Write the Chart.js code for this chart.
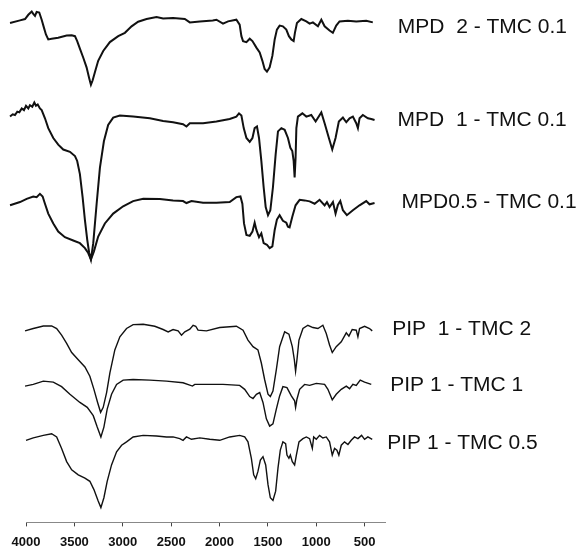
<!DOCTYPE html>
<html>
<head>
<meta charset="utf-8">
<script src="https://cdn.jsdelivr.net/npm/chart.js@4.4.1/dist/chart.umd.min.js"></script>
<style>
  body { margin: 0; background: #fff; }
  #wrap { width: 582px; height: 559px; position: relative; }
</style>
</head>
<body>
<div id="wrap"><canvas id="ftir"></canvas></div>
<script>
/* ---------- DATA : [wavenumber cm-1, transmittance a.u. (offset)] ---------- */
const seriesNames = [
  "MPD  2 - TMC 0.1",
  "MPD  1 - TMC 0.1",
  "MPD0.5 - TMC 0.1",
  "PIP  1 - TMC 2",
  "PIP 1 - TMC 1",
  "PIP 1 - TMC 0.5"
];
const tickValues = [4000, 3500, 3000, 2500, 2000, 1500, 1000, 500];

const mpd2 = [[4165,506.7],[4062,509.3],[4010,510.7],[3976,515],[3941,518.3],[3925,516],[3907,514],[3890,518],[3863,517.3],[3838,510],[3814,501.7],[3794,495],[3770,490],[3735,490.7],[3667,491.7],[3580,494],[3528,494.3],[3494,493.3],[3471,488.3],[3443,480.7],[3409,471.7],[3374,461.7],[3347,450.7],[3329,444],[3312,448.3],[3288,456.7],[3254,468.3],[3202,478.3],[3133,487.3],[3047,493.3],[2978,496.7],[2909,503.3],[2841,508],[2754,510.7],[2651,512.7],[2583,511.3],[2480,511.7],[2359,510.7],[2307,507.3],[2204,508.3],[2070,509.3],[2032,510],[1964,506],[1912,508.3],[1826,510],[1792,505],[1774,493.3],[1757,488.3],[1722,487.3],[1688,490.7],[1660,488.3],[1619,481.7],[1585,476.7],[1557,468.3],[1534,460],[1510,457.3],[1482,461.7],[1454,473.3],[1430,490],[1407,500],[1379,504],[1345,503.3],[1310,500],[1283,493.3],[1258,490],[1234,488.3],[1221,496.7],[1200,506.7],[1155,510.7],[1103,508.3],[1069,506],[1035,507.3],[983,503.3],[948,510],[914,503.3],[863,499],[829,496.7],[794,504],[760,508.3],[674,509],[587,508.3],[484,509],[416,507.3]];

const mpd1 = [[4165,411.7],[4137,414],[4114,413.3],[4090,416.7],[4069,416],[4044,420],[4021,418.3],[4000,422.7],[3976,420],[3959,423.3],[3935,421.7],[3914,426],[3897,422.7],[3879,424],[3856,420],[3838,418.3],[3804,410],[3770,400],[3718,390],[3667,383.3],[3615,378.3],[3546,376],[3494,371.7],[3471,366.7],[3443,353.3],[3415,330],[3391,306.7],[3367,286.7],[3347,273.3],[3329,266.7],[3305,283.3],[3270,323.3],[3236,360],[3195,386.7],[3151,403.3],[3099,410.7],[3030,412.7],[2893,411.7],[2720,410],[2583,407.3],[2480,406],[2377,404],[2342,401.7],[2307,405],[2170,405],[2032,406.7],[1895,409.3],[1826,411.7],[1799,415],[1774,412.7],[1750,400],[1722,390],[1688,386],[1660,390],[1637,400],[1613,401.7],[1592,390],[1568,366.7],[1544,340],[1523,320],[1499,311.7],[1475,316.7],[1448,340],[1420,373.3],[1396,396.7],[1361,400],[1327,398.3],[1293,390],[1268,380],[1248,376.7],[1234,366.7],[1224,350],[1214,370],[1206,400],[1190,411.7],[1144,415],[1103,411.7],[1052,413.3],[1007,406.7],[948,416],[914,405],[870,390],[835,378.3],[801,390],[767,406.7],[725,410.7],[690,406],[656,410],[622,411.7],[587,405],[570,400],[553,410],[519,413.3],[467,410],[432,409.3],[398,408.3]];

const mpd05 = [[4165,321.7],[4062,325],[3993,328.3],[3925,330.7],[3890,330],[3856,333.3],[3828,330.7],[3804,323.3],[3770,313.3],[3718,303.3],[3667,295],[3598,289.3],[3512,286],[3443,283.3],[3391,278.3],[3357,273.3],[3329,266.7],[3298,275],[3254,290],[3185,303.3],[3099,313.3],[2996,320.7],[2893,326],[2789,328.3],[2617,328],[2480,326.7],[2377,326],[2342,324],[2290,326],[2170,324.3],[2032,324.3],[1895,325],[1826,330],[1784,330.7],[1764,323.3],[1747,303.3],[1722,291.7],[1688,290.7],[1660,295],[1637,304],[1619,296.7],[1592,289.3],[1568,293.3],[1544,283.3],[1510,281.7],[1482,278.3],[1454,280],[1430,296.7],[1407,307.3],[1379,311.7],[1345,306],[1310,304],[1293,300],[1276,299.3],[1248,310],[1214,321.7],[1172,327.3],[1121,326.7],[1069,325.7],[1017,323.3],[966,327.3],[914,321.7],[890,325],[863,320],[828,325],[801,313.3],[777,322],[752,326],[725,316.7],[684,311.7],[622,316.7],[553,321.7],[484,326],[450,322.7],[398,324]];

const pip2 = [[4010,194.3],[3925,196.7],[3821,199.3],[3735,199.3],[3683,196.7],[3632,190],[3580,181.7],[3528,172.3],[3460,165],[3391,157.7],[3340,148.3],[3298,135],[3260,121.7],[3229,111.7],[3202,116.7],[3167,131.7],[3133,151.7],[3082,175],[3030,188.3],[2961,196.7],[2893,200.7],[2789,201],[2669,199],[2583,195.7],[2531,193.3],[2480,195.7],[2428,194.3],[2393,190],[2359,193.3],[2307,196],[2273,200],[2246,199],[2222,195],[2135,194.3],[1998,197.7],[1826,199],[1757,195],[1706,185],[1654,178.3],[1603,175],[1568,161.7],[1534,145],[1499,130],[1475,127.7],[1448,133.3],[1413,155],[1379,178.3],[1327,193.3],[1283,191],[1248,178.3],[1227,165],[1214,153.3],[1200,165],[1179,185],[1138,196.7],[1087,200],[1035,197.7],[983,196.7],[932,200],[897,191.7],[863,180],[835,172.3],[794,178.3],[742,183.3],[690,192.3],[663,189],[629,195.7],[587,195],[570,188.3],[553,196.7],[501,199],[450,196.7],[422,194.3]];

const pip1 = [[4010,138.3],[3925,140],[3821,143.3],[3718,142.3],[3632,137.7],[3546,130],[3443,121.7],[3367,116.7],[3305,108.3],[3264,96.7],[3226,86.7],[3195,96.7],[3161,115],[3116,130],[3064,140],[2996,144.3],[2893,145],[2720,144.3],[2548,143.3],[2377,141.7],[2280,138.3],[2256,140],[2135,140],[1964,140],[1792,139],[1740,135],[1688,127.7],[1654,125.7],[1619,130],[1585,131.7],[1551,121.7],[1516,105],[1482,97.7],[1448,100],[1413,115],[1379,128.3],[1345,137.7],[1303,136.7],[1258,128.3],[1224,123.3],[1214,116.7],[1200,125],[1172,135],[1121,140],[1069,139],[1000,141],[914,140],[880,135],[835,124.3],[794,130],[742,135],[690,138.3],[656,135.7],[622,140],[587,139],[546,144.3],[501,142.3],[432,140]];

const pip05 = [[4000,83.3],[3925,85.7],[3821,88.3],[3735,90],[3683,86.7],[3632,75],[3580,61.7],[3528,53.3],[3460,48.3],[3391,45],[3340,41.7],[3298,33.3],[3254,21.7],[3226,15],[3195,25],[3161,41.7],[3116,58.3],[3064,71.7],[3012,78.3],[2961,81.7],[2893,86.7],[2789,88.3],[2651,87.7],[2548,86.7],[2480,86.7],[2411,85],[2377,83.3],[2342,86.7],[2290,84.3],[2204,85.7],[2101,84.3],[1998,83.3],[1895,86.7],[1792,88.3],[1740,86.7],[1706,81.7],[1671,65],[1647,48.3],[1626,44.3],[1603,51.7],[1578,63.3],[1551,66.7],[1523,58.3],[1499,38.3],[1475,25],[1448,22.3],[1420,31.7],[1396,55],[1372,73.3],[1345,81.7],[1317,80],[1303,68.3],[1283,65],[1268,68.3],[1248,61.7],[1224,58.3],[1206,68.3],[1179,81.7],[1138,85],[1103,86.7],[1069,85],[1041,75],[1027,86.7],[1000,84.3],[966,88.3],[932,85.7],[897,86.7],[863,81.7],[835,68.3],[811,75],[787,73.3],[767,68.3],[742,78.3],[708,81.7],[673,79],[639,83.3],[605,86.7],[570,85],[532,88.3],[501,84.3],[467,86.7],[422,84.3]];

const spectra = [mpd2, mpd1, mpd05, pip2, pip1, pip05];

/* ---------- STYLE ---------- */
const lineWidths = [2, 2, 2, 1.4, 1.4, 1.4];
// label position relative to the last point of each trace (px)
const labelDx = [25, 23, 27, 20, 19, 15];
const labelDy = [5, 1, -1, -1, 1, 4];

/* ---------- SERIES LABELS ---------- */
const seriesLabels = {
  id: "seriesLabels",
  afterDatasetsDraw(chart) {
    const ctx = chart.ctx;
    chart.data.datasets.forEach((ds, i) => {
      const pts = chart.getDatasetMeta(i).data;
      const last = pts[pts.length - 1];
      ctx.save();
      ctx.font = "20px 'Liberation Sans', Arial, sans-serif";
      ctx.fillStyle = "#111";
      ctx.textBaseline = "middle";
      ctx.translate(last.x + labelDx[i], last.y + labelDy[i]);
      ctx.scale(1.05, 1);
      ctx.fillText(ds.label, 0, 0);
      ctx.restore();
    });
  }
};

/* ---------- CHART ---------- */
new Chart(document.getElementById("ftir"), {
  type: "line",
  data: {
    datasets: spectra.map((s, i) => ({
      label: seriesNames[i],
      data: s.map(p => ({ x: p[0], y: p[1] })),
      borderColor: "#111",
      borderWidth: lineWidths[i],
      pointRadius: 0,
      tension: 0,
      clip: false,
      fill: false
    }))
  },
  options: {
    responsive: true,
    maintainAspectRatio: false,
    animation: false,
    layout: { padding: { left: 26, right: 197, top: 0, bottom: 1 } },
    plugins: {
      legend: { display: false },
      tooltip: { enabled: false }
    },
    scales: {
      x: {
        type: "linear",
        reverse: true,
        min: 290,
        max: 4000,
        afterBuildTicks: scale => {
          scale.ticks = tickValues.map(v => ({ value: v }));
        },
        ticks: {
          autoSkip: false,
          maxRotation: 0,
          padding: 8,
          color: "#111",
          font: { family: "'Liberation Sans', Arial, sans-serif", size: 13, weight: "bold" },
          callback: v => String(v)
        },
        grid: {
          drawOnChartArea: false,
          drawTicks: true,
          tickLength: 4,
          color: "#444"
        },
        border: { display: true, color: "#888", width: 1 }
      },
      y: {
        display: false,
        min: 0,
        max: 530
      }
    }
  },
  plugins: [seriesLabels]
});
</script>
</body>
</html>
